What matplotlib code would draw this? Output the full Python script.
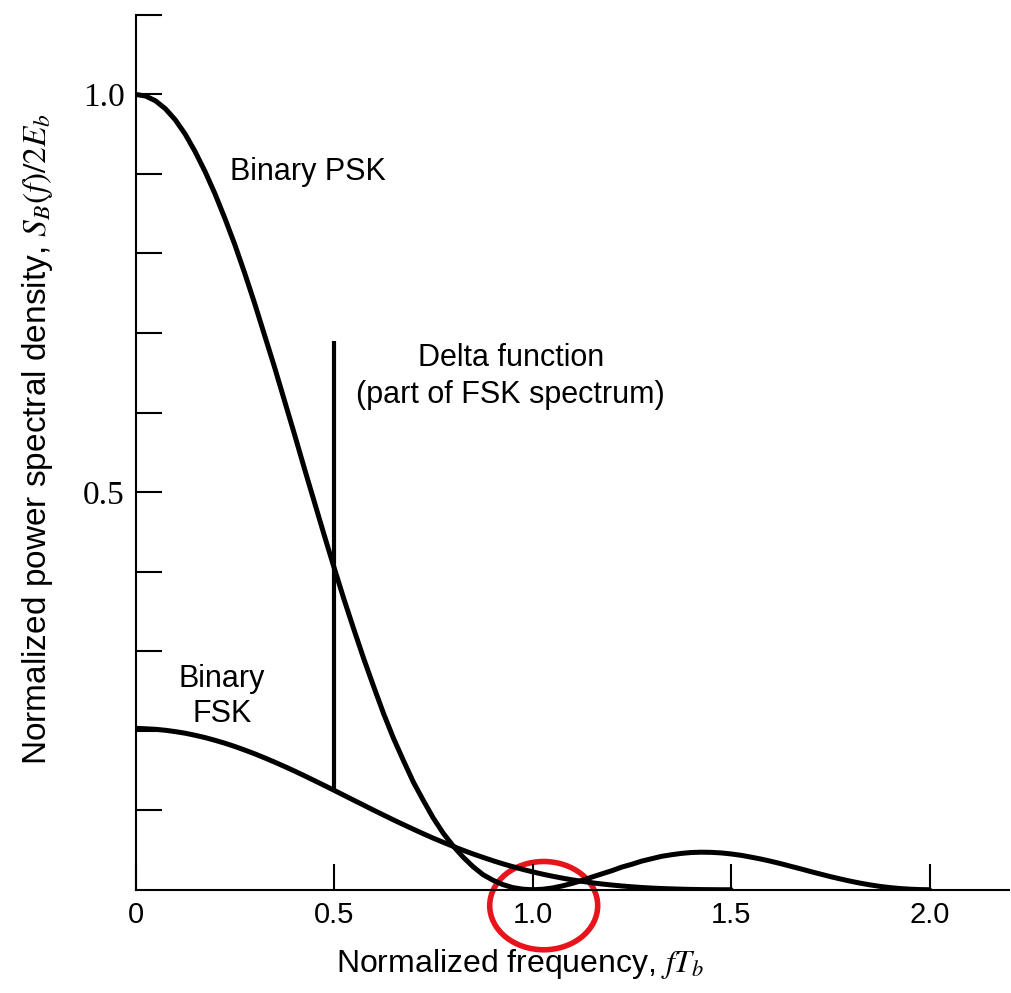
import matplotlib
matplotlib.use("Agg")
import matplotlib.pyplot as plt
from matplotlib.patches import Ellipse
import numpy as np

plt.rcParams['font.family'] = ['Liberation Sans', 'DejaVu Sans']
plt.rcParams['mathtext.fontset'] = 'stix'

# values, every 0.025 in fT_b
freq = [round(0.025 * k, 3) for k in range(81)]
psk = [1.0, 0.998, 0.992, 0.982, 0.968, 0.950, 0.928, 0.903, 0.875, 0.844,
       0.811, 0.775, 0.737, 0.697, 0.657, 0.615, 0.573, 0.530, 0.488, 0.446,
       0.405, 0.365, 0.327, 0.290, 0.255, 0.221, 0.190, 0.162, 0.135, 0.112,
       0.090, 0.071, 0.055, 0.041, 0.029, 0.019, 0.012, 0.0065, 0.0027, 0.0007,
       0.0, 0.0006, 0.0022, 0.0048, 0.008, 0.0117, 0.016, 0.020, 0.024, 0.0285,
       0.032, 0.036, 0.039, 0.042, 0.044, 0.0457, 0.0468, 0.0472, 0.047, 0.0463,
       0.045, 0.0433, 0.041, 0.0386, 0.0358, 0.0328, 0.0295, 0.0263, 0.0229, 0.0197,
       0.0165, 0.0136, 0.0108, 0.0083, 0.0061, 0.0042, 0.0027, 0.0015, 0.0007, 0.0002,
       0.0]

freq_fsk = freq[:61]
fsk = [0.203, 0.2024, 0.2017, 0.2005, 0.1988, 0.1968, 0.1942, 0.1913, 0.1879, 0.1842,
       0.1801, 0.1756, 0.1709, 0.1658, 0.1605, 0.1550, 0.1493, 0.1434, 0.1373, 0.1312,
       0.125, 0.1187, 0.1124, 0.1062, 0.0999, 0.0938, 0.0877, 0.0818, 0.0760, 0.0703,
       0.0648, 0.0596, 0.0545, 0.0496, 0.0450, 0.0407, 0.0365, 0.0326, 0.0290, 0.0256,
       0.0225, 0.0196, 0.0170, 0.0146, 0.0124, 0.0105, 0.0087, 0.0072, 0.0059, 0.0047,
       0.0037, 0.0028, 0.0021, 0.0015, 0.0011, 0.0007, 0.0004, 0.0002, 0.0001, 0.0,
       0.0]

delta_f = 0.5
delta_top = 0.69

fig = plt.figure(figsize=(10.12, 9.93), dpi=100)
ax = fig.add_axes([0.134, 0.104, 0.863, 0.881])

ax.plot(freq, psk, color='black', linewidth=3.6, solid_capstyle='round')
ax.plot(freq_fsk, fsk, color='black', linewidth=3.6, solid_capstyle='round')
ax.vlines(delta_f, fsk[20], delta_top, color='black', linewidth=3.0)

ax.set_xlim(0, 2.2)
ax.set_ylim(0, 1.1)

ax.spines['top'].set_visible(False)
ax.spines['right'].set_visible(False)
ax.spines['left'].set_linewidth(1.5)
ax.spines['bottom'].set_linewidth(1.5)

yticks = [0.1, 0.2, 0.3, 0.4, 0.5, 0.6, 0.7, 0.8, 0.9, 1.0, 1.1]
ylabels = ['', '', '', '', '0.5', '', '', '', '', '1.0', '']
ax.set_yticks(yticks)
ax.set_yticklabels(ylabels, fontfamily='Liberation Serif', fontsize=24)
ax.set_xticks([0, 0.5, 1.0, 1.5, 2.0])
ax.set_xticklabels(['0', '0.5', '1.0', '1.5', '2.0'], fontsize=21)
ax.tick_params(direction='in', length=19, width=1.5, pad=8)

ax.set_xlabel('Normalized frequency, $fT_b$', fontsize=23)
ax.xaxis.set_label_coords(0.44, -0.066)
ax.set_ylabel('Normalized power spectral density, $S_B(f)/2E_b$', fontsize=24)
ax.yaxis.set_label_coords(-0.092, 0.515)

ax.text(0.433, 0.903, 'Binary PSK', fontsize=22, ha='center', va='center')
ax.text(0.945, 0.645, 'Delta function\n(part of FSK spectrum)', fontsize=22,
        ha='center', va='center', linespacing=1.3)
ax.text(0.217, 0.243, 'Binary\nFSK', fontsize=22, ha='center', va='center',
        linespacing=1.25)

ring = Ellipse((1.028, -0.020), 0.272, 0.111, fill=False, edgecolor='#e8141c',
               linewidth=4, clip_on=False)
ax.add_patch(ring)

fig.savefig('out.png', dpi=100)
